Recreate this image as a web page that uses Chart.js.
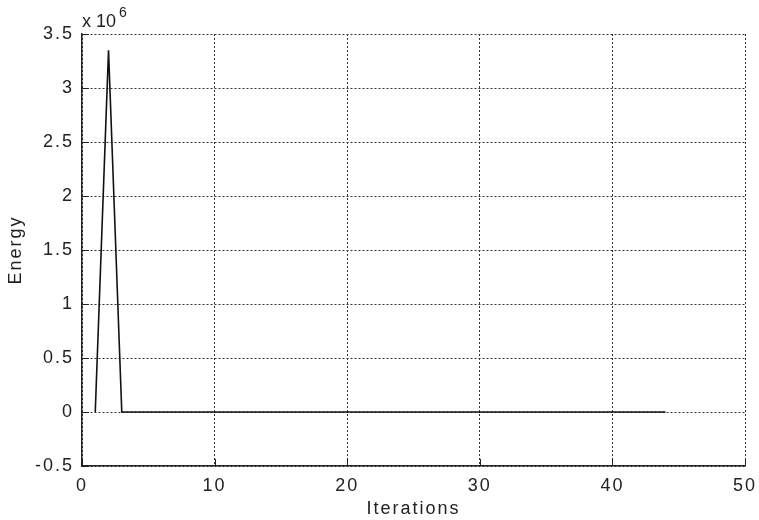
<!DOCTYPE html>
<html>
<head>
<meta charset="utf-8">
<script src="https://cdn.jsdelivr.net/npm/chart.js@4"></script>
<style>
  body { margin: 0; background: #fff; }
  #wrap { width: 759px; height: 520px; position: relative; }
</style>
</head>
<body>
<div id="wrap"><canvas id="myChart"></canvas></div>
<script>
// iteration number and energy per iteration
var iterations = [1, 2, 3, 4, 5, 6, 7, 8, 9, 10, 11, 12, 13, 14, 15, 16, 17, 18, 19, 20, 21, 22,
  23, 24, 25, 26, 27, 28, 29, 30, 31, 32, 33, 34, 35, 36, 37, 38, 39, 40, 41, 42, 43, 44];
var energy = [0, 3350000, 0, 0, 0, 0, 0, 0, 0, 0, 0, 0, 0, 0, 0, 0, 0, 0, 0, 0, 0, 0,
  0, 0, 0, 0, 0, 0, 0, 0, 0, 0, 0, 0, 0, 0, 0, 0, 0, 0, 0, 0, 0, 0];
var xTicks = [0, 10, 20, 30, 40, 50];
var yTicks = [-0.5, 0, 0.5, 1, 1.5, 2, 2.5, 3, 3.5]; // x 10^6

var FONT = "'Liberation Sans', Arial, Helvetica, sans-serif";
var SPACING = "2px";

var points = [];
iterations.forEach(function (it, i) {
  points.push({ x: it, y: energy[i] });
});

// wide letter spacing like the original renderer, inward ticks, "x 10^6" label
var matlabBits = {
  id: "matlabBits",
  beforeLayout: function (chart) {
    chart.ctx.letterSpacing = SPACING;
  },
  beforeDraw: function (chart) {
    chart.ctx.letterSpacing = SPACING;
  },
  afterDraw: function (chart) {
    var ctx = chart.ctx;
    var a = chart.chartArea;
    var xs = chart.scales.x;
    var ys = chart.scales.y;
    ctx.save();
    ctx.strokeStyle = "#222";
    ctx.lineWidth = 1;
    ctx.beginPath();
    xTicks.forEach(function (v) {
      var px = Math.round(xs.getPixelForValue(v)) + 0.5;
      ctx.moveTo(px, a.bottom);
      ctx.lineTo(px, a.bottom - 7);
    });
    yTicks.forEach(function (v) {
      var py = Math.round(ys.getPixelForValue(v * 1e6)) + 0.5;
      ctx.moveTo(a.left, py);
      ctx.lineTo(a.left + 7, py);
    });
    ctx.stroke();

    ctx.fillStyle = "#222";
    ctx.textBaseline = "alphabetic";
    ctx.textAlign = "left";
    ctx.letterSpacing = "0px";
    ctx.font = "18px " + FONT;
    ctx.fillText("x 10", a.left, a.top - 7);
    var w = ctx.measureText("x 10").width;
    ctx.font = "14px " + FONT;
    ctx.fillText("6", a.left + w + 3, a.top - 17);
    ctx.restore();
  },
};

var ctx = document.getElementById("myChart").getContext("2d");
var chart = new Chart(ctx, {
  type: "line",
  data: {
    datasets: [
      {
        data: points,
        borderColor: "#111",
        borderWidth: 1.6,
        pointRadius: 0,
        tension: 0,
        fill: false,
      },
    ],
  },
  options: {
    responsive: true,
    maintainAspectRatio: false,
    animation: false,
    layout: { padding: { top: 34, right: 14, left: 0, bottom: 0 } },
    plugins: {
      legend: { display: false },
      tooltip: { enabled: false },
    },
    scales: {
      x: {
        type: "linear",
        min: 0,
        max: 50,
        afterBuildTicks: function (scale) {
          scale.ticks = xTicks.map(function (v) { return { value: v }; });
        },
        afterFit: function (scale) {
          scale.height = 54;
          scale.paddingLeft = 0;
          scale.paddingRight = 0;
        },
        ticks: {
          color: "#222",
          font: { family: FONT, size: 18 },
          padding: 9,
          maxRotation: 0,
        },
        grid: { color: "#333", lineWidth: 1, drawTicks: false },
        border: { display: true, color: "#222", width: 1.5, dash: [2, 2] },
        title: {
          display: true,
          text: "Iterations",
          color: "#222",
          font: { family: FONT, size: 18 },
          padding: { top: 0, bottom: 0 },
        },
      },
      y: {
        type: "linear",
        min: -500000,
        max: 3500000,
        afterBuildTicks: function (scale) {
          scale.ticks = yTicks.map(function (v) { return { value: v * 1e6 }; });
        },
        afterFit: function (scale) {
          scale.width = 82;
          scale.paddingTop = 0;
          scale.paddingBottom = 0;
        },
        ticks: {
          color: "#222",
          font: { family: FONT, size: 18 },
          padding: 8,
          callback: function (v) { return String(Math.round(v / 1e5) / 10); },
        },
        grid: { color: "#333", lineWidth: 1, drawTicks: false },
        border: { display: true, color: "#222", width: 1.5, dash: [2, 2] },
        title: {
          display: true,
          text: "Energy",
          color: "#222",
          font: { family: FONT, size: 18 },
          padding: { top: 5, bottom: 0 },
        },
      },
    },
  },
  plugins: [matlabBits],
});
</script>
</body>
</html>
